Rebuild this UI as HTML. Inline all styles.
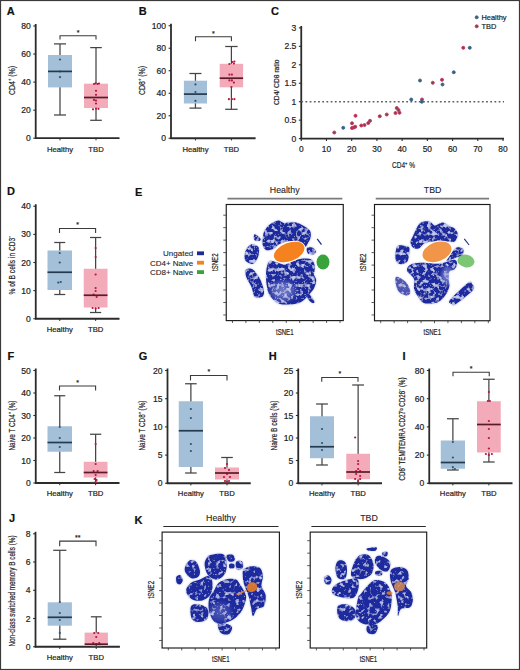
<!DOCTYPE html>
<html><head><meta charset="utf-8"><style>
html,body{margin:0;padding:0;background:#fff;}
body{width:520px;height:670px;overflow:hidden;}
svg{display:block;font-family:"Liberation Sans", sans-serif;}
text{stroke:#1e1e1e;stroke-width:0.2px;}
text.lt{stroke-width:0.1px;}
</style></head><body>
<svg width="520" height="670" viewBox="0 0 520 670">
<rect x="0" y="0" width="520" height="670" fill="#fff"/>
<line x1="35.7" y1="24.0" x2="35.7" y2="138.79999999999998" stroke="#2b2b2b" stroke-width="1.8"/>
<line x1="35.0" y1="138.2" x2="119.5" y2="138.2" stroke="#2b2b2b" stroke-width="1.8"/>
<line x1="33.300000000000004" y1="26.0" x2="35.7" y2="26.0" stroke="#2b2b2b" stroke-width="1.1"/>
<text x="30.800000000000004" y="29.0" font-size="8.6" text-anchor="end" font-weight="normal" fill="#1e1e1e" >80</text>
<line x1="33.300000000000004" y1="54.05" x2="35.7" y2="54.05" stroke="#2b2b2b" stroke-width="1.1"/>
<text x="30.800000000000004" y="57.05" font-size="8.6" text-anchor="end" font-weight="normal" fill="#1e1e1e" >60</text>
<line x1="33.300000000000004" y1="82.1" x2="35.7" y2="82.1" stroke="#2b2b2b" stroke-width="1.1"/>
<text x="30.800000000000004" y="85.1" font-size="8.6" text-anchor="end" font-weight="normal" fill="#1e1e1e" >40</text>
<line x1="33.300000000000004" y1="110.15" x2="35.7" y2="110.15" stroke="#2b2b2b" stroke-width="1.1"/>
<text x="30.800000000000004" y="113.15" font-size="8.6" text-anchor="end" font-weight="normal" fill="#1e1e1e" >20</text>
<line x1="33.300000000000004" y1="138.2" x2="35.7" y2="138.2" stroke="#2b2b2b" stroke-width="1.1"/>
<text x="30.800000000000004" y="141.2" font-size="8.6" text-anchor="end" font-weight="normal" fill="#1e1e1e" >0</text>
<line x1="60.0" y1="138.2" x2="60.0" y2="140.39999999999998" stroke="#2b2b2b" stroke-width="1"/>
<line x1="60.0" y1="43.9" x2="60.0" y2="115.0" stroke="#444444" stroke-width="1.25"/>
<line x1="54.0" y1="43.9" x2="66.0" y2="43.9" stroke="#444444" stroke-width="1.25"/>
<line x1="54.0" y1="115.0" x2="66.0" y2="115.0" stroke="#444444" stroke-width="1.25"/>
<rect x="48" y="55.0" width="24" height="32.400000000000006" fill="#a4c0d8"/>
<circle cx="60.0" cy="59.5" r="1.1" fill="#2a5478"/>
<circle cx="60.0" cy="71.5" r="1.1" fill="#2a5478"/>
<circle cx="60.0" cy="77.1" r="1.1" fill="#2a5478"/>
<line x1="48" y1="71.4" x2="72" y2="71.4" stroke="#243a4e" stroke-width="1.7"/>
<text x="60.0" y="151.9" font-size="7.7" text-anchor="middle" font-weight="normal" fill="#1e1e1e" >Healthy</text>
<line x1="96.0" y1="138.2" x2="96.0" y2="140.39999999999998" stroke="#2b2b2b" stroke-width="1"/>
<line x1="96.0" y1="47.6" x2="96.0" y2="120.3" stroke="#444444" stroke-width="1.25"/>
<line x1="90.2" y1="47.6" x2="101.8" y2="47.6" stroke="#444444" stroke-width="1.25"/>
<line x1="90.2" y1="120.3" x2="101.8" y2="120.3" stroke="#444444" stroke-width="1.25"/>
<rect x="84" y="83.7" width="24" height="24.299999999999997" fill="#f3aab9"/>
<circle cx="95.5" cy="83.3" r="1.1" fill="#b8163e"/>
<circle cx="94.0" cy="84" r="1.1" fill="#b8163e"/>
<circle cx="97.5" cy="84" r="1.1" fill="#b8163e"/>
<circle cx="99.0" cy="83.5" r="1.1" fill="#b8163e"/>
<circle cx="96.0" cy="90.8" r="1.1" fill="#b8163e"/>
<circle cx="96.0" cy="94.8" r="1.1" fill="#b8163e"/>
<circle cx="94.0" cy="99.9" r="1.1" fill="#b8163e"/>
<circle cx="96.0" cy="100.6" r="1.1" fill="#b8163e"/>
<circle cx="96.0" cy="103.5" r="1.1" fill="#b8163e"/>
<circle cx="93.0" cy="109.3" r="1.1" fill="#b8163e"/>
<circle cx="96.0" cy="108.6" r="1.1" fill="#b8163e"/>
<circle cx="98.5" cy="108.8" r="1.1" fill="#b8163e"/>
<line x1="84" y1="97.5" x2="108" y2="97.5" stroke="#5a1a2a" stroke-width="1.7"/>
<text x="96.0" y="151.9" font-size="7.7" text-anchor="middle" font-weight="normal" fill="#1e1e1e" >TBD</text>
<polyline points="60,39.6 60,35.800000000000004 96,35.800000000000004 96,39.6" fill="none" stroke="#3a3a3a" stroke-width="1.1"/>
<text x="78.0" y="34.6" font-size="7" text-anchor="middle" fill="#1e1e1e">*</text>
<text x="6.8" y="14.6" font-size="11" text-anchor="start" font-weight="bold" fill="#111" >A</text>
<text x="0" y="0" font-size="8.8" text-anchor="middle" fill="#1e1e1e" textLength="29" lengthAdjust="spacingAndGlyphs" transform="translate(15.168,80.5) rotate(-90)">CD4⁺ (%)</text>
<line x1="171.0" y1="23.75" x2="171.0" y2="138.85" stroke="#2b2b2b" stroke-width="1.8"/>
<line x1="170.3" y1="138.25" x2="255.6" y2="138.25" stroke="#2b2b2b" stroke-width="1.8"/>
<line x1="168.6" y1="25.75" x2="171.0" y2="25.75" stroke="#2b2b2b" stroke-width="1.1"/>
<text x="166.1" y="28.75" font-size="8.6" text-anchor="end" font-weight="normal" fill="#1e1e1e" >100</text>
<line x1="168.6" y1="48.25" x2="171.0" y2="48.25" stroke="#2b2b2b" stroke-width="1.1"/>
<text x="166.1" y="51.25" font-size="8.6" text-anchor="end" font-weight="normal" fill="#1e1e1e" >80</text>
<line x1="168.6" y1="70.75" x2="171.0" y2="70.75" stroke="#2b2b2b" stroke-width="1.1"/>
<text x="166.1" y="73.75" font-size="8.6" text-anchor="end" font-weight="normal" fill="#1e1e1e" >60</text>
<line x1="168.6" y1="93.25" x2="171.0" y2="93.25" stroke="#2b2b2b" stroke-width="1.1"/>
<text x="166.1" y="96.25" font-size="8.6" text-anchor="end" font-weight="normal" fill="#1e1e1e" >40</text>
<line x1="168.6" y1="115.75" x2="171.0" y2="115.75" stroke="#2b2b2b" stroke-width="1.1"/>
<text x="166.1" y="118.75" font-size="8.6" text-anchor="end" font-weight="normal" fill="#1e1e1e" >20</text>
<line x1="168.6" y1="138.25" x2="171.0" y2="138.25" stroke="#2b2b2b" stroke-width="1.1"/>
<text x="166.1" y="141.25" font-size="8.6" text-anchor="end" font-weight="normal" fill="#1e1e1e" >0</text>
<line x1="195.45" y1="138.25" x2="195.45" y2="140.45" stroke="#2b2b2b" stroke-width="1"/>
<line x1="195.45" y1="73.5" x2="195.45" y2="108.1" stroke="#444444" stroke-width="1.25"/>
<line x1="189.45" y1="73.5" x2="201.45" y2="73.5" stroke="#444444" stroke-width="1.25"/>
<line x1="189.45" y1="108.1" x2="201.45" y2="108.1" stroke="#444444" stroke-width="1.25"/>
<rect x="183.9" y="80.7" width="23.099999999999994" height="22.799999999999997" fill="#a4c0d8"/>
<circle cx="195.45" cy="84.4" r="1.1" fill="#2a5478"/>
<circle cx="195.45" cy="92" r="1.1" fill="#2a5478"/>
<circle cx="195.45" cy="100.9" r="1.1" fill="#2a5478"/>
<line x1="183.9" y1="94.1" x2="207.0" y2="94.1" stroke="#243a4e" stroke-width="1.7"/>
<text x="195.45" y="151.9" font-size="7.7" text-anchor="middle" font-weight="normal" fill="#1e1e1e" >Healthy</text>
<line x1="231.39999999999998" y1="138.25" x2="231.39999999999998" y2="140.45" stroke="#2b2b2b" stroke-width="1"/>
<line x1="231.39999999999998" y1="46.5" x2="231.39999999999998" y2="109.3" stroke="#444444" stroke-width="1.25"/>
<line x1="225.2" y1="46.5" x2="237.59999999999997" y2="46.5" stroke="#444444" stroke-width="1.25"/>
<line x1="225.2" y1="109.3" x2="237.59999999999997" y2="109.3" stroke="#444444" stroke-width="1.25"/>
<rect x="219.7" y="63.8" width="23.400000000000006" height="23.5" fill="#f3aab9"/>
<circle cx="229.39999999999998" cy="64" r="1.1" fill="#b8163e"/>
<circle cx="232.39999999999998" cy="62" r="1.1" fill="#b8163e"/>
<circle cx="234.39999999999998" cy="61.5" r="1.1" fill="#b8163e"/>
<circle cx="233.89999999999998" cy="63.5" r="1.1" fill="#b8163e"/>
<circle cx="229.39999999999998" cy="74.6" r="1.1" fill="#b8163e"/>
<circle cx="231.89999999999998" cy="74.6" r="1.1" fill="#b8163e"/>
<circle cx="229.39999999999998" cy="80.4" r="1.1" fill="#b8163e"/>
<circle cx="231.89999999999998" cy="80.4" r="1.1" fill="#b8163e"/>
<circle cx="233.89999999999998" cy="82.6" r="1.1" fill="#b8163e"/>
<circle cx="231.39999999999998" cy="87" r="1.1" fill="#b8163e"/>
<circle cx="228.89999999999998" cy="99.2" r="1.1" fill="#b8163e"/>
<circle cx="231.89999999999998" cy="99.2" r="1.1" fill="#b8163e"/>
<circle cx="234.39999999999998" cy="99.2" r="1.1" fill="#b8163e"/>
<line x1="219.7" y1="78.2" x2="243.1" y2="78.2" stroke="#5a1a2a" stroke-width="1.7"/>
<text x="231.39999999999998" y="151.9" font-size="7.7" text-anchor="middle" font-weight="normal" fill="#1e1e1e" >TBD</text>
<polyline points="195.5,41.3 195.5,36.7 231.4,36.7 231.4,41.3" fill="none" stroke="#3a3a3a" stroke-width="1.1"/>
<text x="213.45" y="35.5" font-size="7" text-anchor="middle" fill="#1e1e1e">*</text>
<text x="138.7" y="14.5" font-size="11" text-anchor="start" font-weight="bold" fill="#111" >B</text>
<text x="0" y="0" font-size="8.8" text-anchor="middle" fill="#1e1e1e" textLength="29" lengthAdjust="spacingAndGlyphs" transform="translate(145.168,80.5) rotate(-90)">CD8⁺ (%)</text>
<line x1="35.75" y1="204.25" x2="35.75" y2="319.35" stroke="#2b2b2b" stroke-width="1.8"/>
<line x1="35.05" y1="318.75" x2="119.5" y2="318.75" stroke="#2b2b2b" stroke-width="1.8"/>
<line x1="33.35" y1="206.25" x2="35.75" y2="206.25" stroke="#2b2b2b" stroke-width="1.1"/>
<text x="30.85" y="209.25" font-size="8.6" text-anchor="end" font-weight="normal" fill="#1e1e1e" >40</text>
<line x1="33.35" y1="234.4" x2="35.75" y2="234.4" stroke="#2b2b2b" stroke-width="1.1"/>
<text x="30.85" y="237.4" font-size="8.6" text-anchor="end" font-weight="normal" fill="#1e1e1e" >30</text>
<line x1="33.35" y1="262.5" x2="35.75" y2="262.5" stroke="#2b2b2b" stroke-width="1.1"/>
<text x="30.85" y="265.5" font-size="8.6" text-anchor="end" font-weight="normal" fill="#1e1e1e" >20</text>
<line x1="33.35" y1="290.6" x2="35.75" y2="290.6" stroke="#2b2b2b" stroke-width="1.1"/>
<text x="30.85" y="293.6" font-size="8.6" text-anchor="end" font-weight="normal" fill="#1e1e1e" >10</text>
<line x1="33.35" y1="318.75" x2="35.75" y2="318.75" stroke="#2b2b2b" stroke-width="1.1"/>
<text x="30.85" y="321.75" font-size="8.6" text-anchor="end" font-weight="normal" fill="#1e1e1e" >0</text>
<line x1="59.75" y1="318.75" x2="59.75" y2="320.95" stroke="#2b2b2b" stroke-width="1"/>
<line x1="59.75" y1="242.5" x2="59.75" y2="294.5" stroke="#444444" stroke-width="1.25"/>
<line x1="54.25" y1="242.5" x2="65.25" y2="242.5" stroke="#444444" stroke-width="1.25"/>
<line x1="54.25" y1="294.5" x2="65.25" y2="294.5" stroke="#444444" stroke-width="1.25"/>
<rect x="47.5" y="250.5" width="24.5" height="39.5" fill="#a4c0d8"/>
<circle cx="59.75" cy="253" r="1.1" fill="#2a5478"/>
<circle cx="59.75" cy="262.5" r="1.1" fill="#2a5478"/>
<circle cx="58.25" cy="282.6" r="1.1" fill="#2a5478"/>
<circle cx="60.75" cy="282" r="1.1" fill="#2a5478"/>
<line x1="47.5" y1="272.25" x2="72" y2="272.25" stroke="#243a4e" stroke-width="1.7"/>
<text x="59.75" y="332.4" font-size="7.7" text-anchor="middle" font-weight="normal" fill="#1e1e1e" >Healthy</text>
<line x1="95.625" y1="318.75" x2="95.625" y2="320.95" stroke="#2b2b2b" stroke-width="1"/>
<line x1="95.625" y1="237.5" x2="95.625" y2="312.5" stroke="#444444" stroke-width="1.25"/>
<line x1="90.025" y1="237.5" x2="101.225" y2="237.5" stroke="#444444" stroke-width="1.25"/>
<line x1="90.025" y1="312.5" x2="101.225" y2="312.5" stroke="#444444" stroke-width="1.25"/>
<rect x="83.75" y="268.75" width="23.75" height="38.75" fill="#f3aab9"/>
<circle cx="95.625" cy="248" r="1.1" fill="#b8163e"/>
<circle cx="95.625" cy="257" r="1.1" fill="#b8163e"/>
<circle cx="95.625" cy="274.5" r="1.1" fill="#b8163e"/>
<circle cx="95.625" cy="288" r="1.1" fill="#b8163e"/>
<circle cx="95.625" cy="291" r="1.1" fill="#b8163e"/>
<circle cx="93.625" cy="294.5" r="1.1" fill="#b8163e"/>
<circle cx="96.625" cy="297" r="1.1" fill="#b8163e"/>
<circle cx="92.625" cy="308" r="1.1" fill="#b8163e"/>
<circle cx="95.625" cy="308.5" r="1.1" fill="#b8163e"/>
<circle cx="98.625" cy="308" r="1.1" fill="#b8163e"/>
<line x1="83.75" y1="295.25" x2="107.5" y2="295.25" stroke="#5a1a2a" stroke-width="1.7"/>
<text x="95.625" y="332.4" font-size="7.7" text-anchor="middle" font-weight="normal" fill="#1e1e1e" >TBD</text>
<polyline points="59.5,233.0 59.5,228.45 95.6,228.45 95.6,233.0" fill="none" stroke="#3a3a3a" stroke-width="1.1"/>
<text x="77.55" y="227.25" font-size="7" text-anchor="middle" fill="#1e1e1e">*</text>
<text x="7" y="195" font-size="11" text-anchor="start" font-weight="bold" fill="#111" >D</text>
<text x="0" y="0" font-size="8.8" text-anchor="middle" fill="#1e1e1e" textLength="59" lengthAdjust="spacingAndGlyphs" transform="translate(15.168,265) rotate(-90)">% of B cells in CD3⁻</text>
<line x1="35.75" y1="368.5" x2="35.75" y2="483.6" stroke="#2b2b2b" stroke-width="1.8"/>
<line x1="35.05" y1="483.0" x2="119.5" y2="483.0" stroke="#2b2b2b" stroke-width="1.8"/>
<line x1="33.35" y1="370.5" x2="35.75" y2="370.5" stroke="#2b2b2b" stroke-width="1.1"/>
<text x="30.85" y="373.5" font-size="8.6" text-anchor="end" font-weight="normal" fill="#1e1e1e" >50</text>
<line x1="33.35" y1="393.0" x2="35.75" y2="393.0" stroke="#2b2b2b" stroke-width="1.1"/>
<text x="30.85" y="396.0" font-size="8.6" text-anchor="end" font-weight="normal" fill="#1e1e1e" >40</text>
<line x1="33.35" y1="415.5" x2="35.75" y2="415.5" stroke="#2b2b2b" stroke-width="1.1"/>
<text x="30.85" y="418.5" font-size="8.6" text-anchor="end" font-weight="normal" fill="#1e1e1e" >30</text>
<line x1="33.35" y1="438.0" x2="35.75" y2="438.0" stroke="#2b2b2b" stroke-width="1.1"/>
<text x="30.85" y="441.0" font-size="8.6" text-anchor="end" font-weight="normal" fill="#1e1e1e" >20</text>
<line x1="33.35" y1="460.5" x2="35.75" y2="460.5" stroke="#2b2b2b" stroke-width="1.1"/>
<text x="30.85" y="463.5" font-size="8.6" text-anchor="end" font-weight="normal" fill="#1e1e1e" >10</text>
<line x1="33.35" y1="483.0" x2="35.75" y2="483.0" stroke="#2b2b2b" stroke-width="1.1"/>
<text x="30.85" y="486.0" font-size="8.6" text-anchor="end" font-weight="normal" fill="#1e1e1e" >0</text>
<line x1="59.75" y1="483.0" x2="59.75" y2="485.2" stroke="#2b2b2b" stroke-width="1"/>
<line x1="59.75" y1="395.75" x2="59.75" y2="472.5" stroke="#444444" stroke-width="1.25"/>
<line x1="54.25" y1="395.75" x2="65.25" y2="395.75" stroke="#444444" stroke-width="1.25"/>
<line x1="54.25" y1="472.5" x2="65.25" y2="472.5" stroke="#444444" stroke-width="1.25"/>
<rect x="47.5" y="426.25" width="24.5" height="25.5" fill="#a4c0d8"/>
<circle cx="59.75" cy="427" r="1.1" fill="#2a5478"/>
<circle cx="59.75" cy="438" r="1.1" fill="#2a5478"/>
<circle cx="59.75" cy="447" r="1.1" fill="#2a5478"/>
<line x1="47.5" y1="442.5" x2="72" y2="442.5" stroke="#243a4e" stroke-width="1.7"/>
<text x="59.75" y="496.4" font-size="7.7" text-anchor="middle" font-weight="normal" fill="#1e1e1e" >Healthy</text>
<line x1="95.625" y1="483.0" x2="95.625" y2="485.2" stroke="#2b2b2b" stroke-width="1"/>
<line x1="95.625" y1="434.25" x2="95.625" y2="482.5" stroke="#444444" stroke-width="1.25"/>
<line x1="90.025" y1="434.25" x2="101.225" y2="434.25" stroke="#444444" stroke-width="1.25"/>
<line x1="90.025" y1="482.5" x2="101.225" y2="482.5" stroke="#444444" stroke-width="1.25"/>
<rect x="83.75" y="461.75" width="23.75" height="15.75" fill="#f3aab9"/>
<circle cx="95.625" cy="444" r="1.1" fill="#b8163e"/>
<circle cx="95.625" cy="464" r="1.1" fill="#b8163e"/>
<circle cx="93.625" cy="471" r="1.1" fill="#b8163e"/>
<circle cx="97.625" cy="471" r="1.1" fill="#b8163e"/>
<circle cx="95.625" cy="475" r="1.1" fill="#b8163e"/>
<circle cx="94.625" cy="479" r="1.1" fill="#b8163e"/>
<circle cx="96.625" cy="480" r="1.1" fill="#b8163e"/>
<circle cx="95.625" cy="482" r="1.1" fill="#b8163e"/>
<line x1="83.75" y1="472.5" x2="107.5" y2="472.5" stroke="#5a1a2a" stroke-width="1.7"/>
<text x="95.625" y="496.4" font-size="7.7" text-anchor="middle" font-weight="normal" fill="#1e1e1e" >TBD</text>
<polyline points="59.5,390.5 59.5,385.95 95.6,385.95 95.6,390.5" fill="none" stroke="#3a3a3a" stroke-width="1.1"/>
<text x="77.55" y="384.75" font-size="7" text-anchor="middle" fill="#1e1e1e">*</text>
<text x="7.5" y="359.5" font-size="11" text-anchor="start" font-weight="bold" fill="#111" >F</text>
<text x="0" y="0" font-size="8.8" text-anchor="middle" fill="#1e1e1e" textLength="50" lengthAdjust="spacingAndGlyphs" transform="translate(15.168,425.5) rotate(-90)">Naive T CD4⁺ (%)</text>
<line x1="167.5" y1="368.5" x2="167.5" y2="483.85" stroke="#2b2b2b" stroke-width="1.8"/>
<line x1="166.8" y1="483.25" x2="250.75" y2="483.25" stroke="#2b2b2b" stroke-width="1.8"/>
<line x1="165.1" y1="370.5" x2="167.5" y2="370.5" stroke="#2b2b2b" stroke-width="1.1"/>
<text x="162.6" y="373.5" font-size="8.6" text-anchor="end" font-weight="normal" fill="#1e1e1e" >20</text>
<line x1="165.1" y1="398.7" x2="167.5" y2="398.7" stroke="#2b2b2b" stroke-width="1.1"/>
<text x="162.6" y="401.7" font-size="8.6" text-anchor="end" font-weight="normal" fill="#1e1e1e" >15</text>
<line x1="165.1" y1="426.9" x2="167.5" y2="426.9" stroke="#2b2b2b" stroke-width="1.1"/>
<text x="162.6" y="429.9" font-size="8.6" text-anchor="end" font-weight="normal" fill="#1e1e1e" >10</text>
<line x1="165.1" y1="455.1" x2="167.5" y2="455.1" stroke="#2b2b2b" stroke-width="1.1"/>
<text x="162.6" y="458.1" font-size="8.6" text-anchor="end" font-weight="normal" fill="#1e1e1e" >5</text>
<line x1="165.1" y1="483.25" x2="167.5" y2="483.25" stroke="#2b2b2b" stroke-width="1.1"/>
<text x="162.6" y="486.25" font-size="8.6" text-anchor="end" font-weight="normal" fill="#1e1e1e" >0</text>
<line x1="190.875" y1="483.25" x2="190.875" y2="485.45" stroke="#2b2b2b" stroke-width="1"/>
<line x1="190.875" y1="383.75" x2="190.875" y2="473" stroke="#444444" stroke-width="1.25"/>
<line x1="185.075" y1="383.75" x2="196.675" y2="383.75" stroke="#444444" stroke-width="1.25"/>
<line x1="185.075" y1="473" x2="196.675" y2="473" stroke="#444444" stroke-width="1.25"/>
<rect x="178.75" y="401.25" width="24.25" height="65.75" fill="#a4c0d8"/>
<circle cx="190.875" cy="409" r="1.1" fill="#2a5478"/>
<circle cx="190.875" cy="418" r="1.1" fill="#2a5478"/>
<circle cx="190.875" cy="444" r="1.1" fill="#2a5478"/>
<circle cx="190.875" cy="451" r="1.1" fill="#2a5478"/>
<line x1="178.75" y1="430.75" x2="203" y2="430.75" stroke="#243a4e" stroke-width="1.7"/>
<text x="190.875" y="496.4" font-size="7.7" text-anchor="middle" font-weight="normal" fill="#1e1e1e" >Healthy</text>
<line x1="227.0" y1="483.25" x2="227.0" y2="485.45" stroke="#2b2b2b" stroke-width="1"/>
<line x1="227.0" y1="457.5" x2="227.0" y2="483" stroke="#444444" stroke-width="1.25"/>
<line x1="221.2" y1="457.5" x2="232.8" y2="457.5" stroke="#444444" stroke-width="1.25"/>
<line x1="221.2" y1="483" x2="232.8" y2="483" stroke="#444444" stroke-width="1.25"/>
<rect x="215" y="467.5" width="24" height="12.0" fill="#f3aab9"/>
<circle cx="227.0" cy="464" r="1.1" fill="#b8163e"/>
<circle cx="225.0" cy="468" r="1.1" fill="#b8163e"/>
<circle cx="229.0" cy="470" r="1.1" fill="#b8163e"/>
<circle cx="227.0" cy="474" r="1.1" fill="#b8163e"/>
<circle cx="224.0" cy="477" r="1.1" fill="#b8163e"/>
<circle cx="230.0" cy="477" r="1.1" fill="#b8163e"/>
<circle cx="225.0" cy="481" r="1.1" fill="#b8163e"/>
<circle cx="229.0" cy="481" r="1.1" fill="#b8163e"/>
<circle cx="227.0" cy="482" r="1.1" fill="#b8163e"/>
<line x1="215" y1="473" x2="239" y2="473" stroke="#5a1a2a" stroke-width="1.7"/>
<text x="227.0" y="496.4" font-size="7.7" text-anchor="middle" font-weight="normal" fill="#1e1e1e" >TBD</text>
<polyline points="190.5,380.5 190.5,375.45 227,375.45 227,380.5" fill="none" stroke="#3a3a3a" stroke-width="1.1"/>
<text x="208.75" y="374.25" font-size="7" text-anchor="middle" fill="#1e1e1e">*</text>
<text x="138.75" y="359.5" font-size="11" text-anchor="start" font-weight="bold" fill="#111" >G</text>
<text x="0" y="0" font-size="8.8" text-anchor="middle" fill="#1e1e1e" textLength="50" lengthAdjust="spacingAndGlyphs" transform="translate(145.168,425.5) rotate(-90)">Naive T CD8⁺ (%)</text>
<line x1="298.25" y1="368.5" x2="298.25" y2="483.85" stroke="#2b2b2b" stroke-width="1.8"/>
<line x1="297.55" y1="483.25" x2="382" y2="483.25" stroke="#2b2b2b" stroke-width="1.8"/>
<line x1="295.85" y1="370.5" x2="298.25" y2="370.5" stroke="#2b2b2b" stroke-width="1.1"/>
<text x="293.35" y="373.5" font-size="8.6" text-anchor="end" font-weight="normal" fill="#1e1e1e" >25</text>
<line x1="295.85" y1="393.0" x2="298.25" y2="393.0" stroke="#2b2b2b" stroke-width="1.1"/>
<text x="293.35" y="396.0" font-size="8.6" text-anchor="end" font-weight="normal" fill="#1e1e1e" >20</text>
<line x1="295.85" y1="415.5" x2="298.25" y2="415.5" stroke="#2b2b2b" stroke-width="1.1"/>
<text x="293.35" y="418.5" font-size="8.6" text-anchor="end" font-weight="normal" fill="#1e1e1e" >15</text>
<line x1="295.85" y1="438.0" x2="298.25" y2="438.0" stroke="#2b2b2b" stroke-width="1.1"/>
<text x="293.35" y="441.0" font-size="8.6" text-anchor="end" font-weight="normal" fill="#1e1e1e" >10</text>
<line x1="295.85" y1="460.5" x2="298.25" y2="460.5" stroke="#2b2b2b" stroke-width="1.1"/>
<text x="293.35" y="463.5" font-size="8.6" text-anchor="end" font-weight="normal" fill="#1e1e1e" >5</text>
<line x1="295.85" y1="483.25" x2="298.25" y2="483.25" stroke="#2b2b2b" stroke-width="1.1"/>
<text x="293.35" y="486.25" font-size="8.6" text-anchor="end" font-weight="normal" fill="#1e1e1e" >0</text>
<line x1="322.0" y1="483.25" x2="322.0" y2="485.45" stroke="#2b2b2b" stroke-width="1"/>
<line x1="322.0" y1="404" x2="322.0" y2="465" stroke="#444444" stroke-width="1.25"/>
<line x1="316.1" y1="404" x2="327.9" y2="404" stroke="#444444" stroke-width="1.25"/>
<line x1="316.1" y1="465" x2="327.9" y2="465" stroke="#444444" stroke-width="1.25"/>
<rect x="310" y="416.25" width="24" height="42.0" fill="#a4c0d8"/>
<circle cx="322.0" cy="429" r="1.1" fill="#2a5478"/>
<circle cx="322.0" cy="443" r="1.1" fill="#2a5478"/>
<circle cx="322.0" cy="450" r="1.1" fill="#2a5478"/>
<line x1="310" y1="446.75" x2="334" y2="446.75" stroke="#243a4e" stroke-width="1.7"/>
<text x="322.0" y="496.4" font-size="7.7" text-anchor="middle" font-weight="normal" fill="#1e1e1e" >Healthy</text>
<line x1="358.125" y1="483.25" x2="358.125" y2="485.45" stroke="#2b2b2b" stroke-width="1"/>
<line x1="358.125" y1="385" x2="358.125" y2="483" stroke="#444444" stroke-width="1.25"/>
<line x1="352.225" y1="385" x2="364.025" y2="385" stroke="#444444" stroke-width="1.25"/>
<line x1="352.225" y1="483" x2="364.025" y2="483" stroke="#444444" stroke-width="1.25"/>
<rect x="346.25" y="453.75" width="23.75" height="25.5" fill="#f3aab9"/>
<circle cx="355.125" cy="437.5" r="1.1" fill="#b8163e"/>
<circle cx="358.125" cy="461" r="1.1" fill="#b8163e"/>
<circle cx="358.125" cy="464" r="1.1" fill="#b8163e"/>
<circle cx="358.125" cy="469" r="1.1" fill="#b8163e"/>
<circle cx="356.125" cy="471" r="1.1" fill="#b8163e"/>
<circle cx="360.125" cy="471" r="1.1" fill="#b8163e"/>
<circle cx="356.125" cy="474" r="1.1" fill="#b8163e"/>
<circle cx="360.125" cy="476" r="1.1" fill="#b8163e"/>
<circle cx="355.125" cy="479" r="1.1" fill="#b8163e"/>
<circle cx="360.125" cy="479" r="1.1" fill="#b8163e"/>
<circle cx="358.125" cy="481" r="1.1" fill="#b8163e"/>
<line x1="346.25" y1="472" x2="370" y2="472" stroke="#5a1a2a" stroke-width="1.7"/>
<text x="358.125" y="496.4" font-size="7.7" text-anchor="middle" font-weight="normal" fill="#1e1e1e" >TBD</text>
<polyline points="321.75,381.75 321.75,377.45 358,377.45 358,381.75" fill="none" stroke="#3a3a3a" stroke-width="1.1"/>
<text x="339.875" y="376.25" font-size="7" text-anchor="middle" fill="#1e1e1e">*</text>
<text x="268.75" y="359.5" font-size="11" text-anchor="start" font-weight="bold" fill="#111" >H</text>
<text x="0" y="0" font-size="8.8" text-anchor="middle" fill="#1e1e1e" textLength="50" lengthAdjust="spacingAndGlyphs" transform="translate(276.918,425.5) rotate(-90)">Naive B cells (%)</text>
<line x1="429.25" y1="368.5" x2="429.25" y2="483.85" stroke="#2b2b2b" stroke-width="1.8"/>
<line x1="428.55" y1="483.25" x2="512.5" y2="483.25" stroke="#2b2b2b" stroke-width="1.8"/>
<line x1="426.85" y1="370.5" x2="429.25" y2="370.5" stroke="#2b2b2b" stroke-width="1.1"/>
<text x="424.35" y="373.5" font-size="8.6" text-anchor="end" font-weight="normal" fill="#1e1e1e" >80</text>
<line x1="426.85" y1="398.7" x2="429.25" y2="398.7" stroke="#2b2b2b" stroke-width="1.1"/>
<text x="424.35" y="401.7" font-size="8.6" text-anchor="end" font-weight="normal" fill="#1e1e1e" >60</text>
<line x1="426.85" y1="426.9" x2="429.25" y2="426.9" stroke="#2b2b2b" stroke-width="1.1"/>
<text x="424.35" y="429.9" font-size="8.6" text-anchor="end" font-weight="normal" fill="#1e1e1e" >40</text>
<line x1="426.85" y1="455.1" x2="429.25" y2="455.1" stroke="#2b2b2b" stroke-width="1.1"/>
<text x="424.35" y="458.1" font-size="8.6" text-anchor="end" font-weight="normal" fill="#1e1e1e" >20</text>
<line x1="426.85" y1="483.25" x2="429.25" y2="483.25" stroke="#2b2b2b" stroke-width="1.1"/>
<text x="424.35" y="486.25" font-size="8.6" text-anchor="end" font-weight="normal" fill="#1e1e1e" >0</text>
<line x1="452.875" y1="483.25" x2="452.875" y2="485.45" stroke="#2b2b2b" stroke-width="1"/>
<line x1="452.875" y1="418.75" x2="452.875" y2="470" stroke="#444444" stroke-width="1.25"/>
<line x1="446.975" y1="418.75" x2="458.775" y2="418.75" stroke="#444444" stroke-width="1.25"/>
<line x1="446.975" y1="470" x2="458.775" y2="470" stroke="#444444" stroke-width="1.25"/>
<rect x="440.75" y="440.5" width="24.25" height="28.25" fill="#a4c0d8"/>
<circle cx="452.875" cy="442" r="1.1" fill="#2a5478"/>
<circle cx="452.875" cy="457.5" r="1.1" fill="#2a5478"/>
<circle cx="452.875" cy="467" r="1.1" fill="#2a5478"/>
<circle cx="454.875" cy="469" r="1.1" fill="#2a5478"/>
<line x1="440.75" y1="462.5" x2="465" y2="462.5" stroke="#243a4e" stroke-width="1.7"/>
<text x="452.875" y="496.4" font-size="7.7" text-anchor="middle" font-weight="normal" fill="#1e1e1e" >Healthy</text>
<line x1="488.875" y1="483.25" x2="488.875" y2="485.45" stroke="#2b2b2b" stroke-width="1"/>
<line x1="488.875" y1="379.25" x2="488.875" y2="462" stroke="#444444" stroke-width="1.25"/>
<line x1="483.075" y1="379.25" x2="494.675" y2="379.25" stroke="#444444" stroke-width="1.25"/>
<line x1="483.075" y1="462" x2="494.675" y2="462" stroke="#444444" stroke-width="1.25"/>
<rect x="477" y="401.25" width="23.75" height="51.25" fill="#f3aab9"/>
<circle cx="488.875" cy="392" r="1.1" fill="#b8163e"/>
<circle cx="487.875" cy="401" r="1.1" fill="#b8163e"/>
<circle cx="489.875" cy="401" r="1.1" fill="#b8163e"/>
<circle cx="488.875" cy="421" r="1.1" fill="#b8163e"/>
<circle cx="488.875" cy="429" r="1.1" fill="#b8163e"/>
<circle cx="488.875" cy="438" r="1.1" fill="#b8163e"/>
<circle cx="488.875" cy="448.5" r="1.1" fill="#b8163e"/>
<circle cx="485.875" cy="454" r="1.1" fill="#b8163e"/>
<circle cx="488.875" cy="455" r="1.1" fill="#b8163e"/>
<circle cx="491.875" cy="454" r="1.1" fill="#b8163e"/>
<line x1="477" y1="424.5" x2="500.75" y2="424.5" stroke="#5a1a2a" stroke-width="1.7"/>
<text x="488.875" y="496.4" font-size="7.7" text-anchor="middle" font-weight="normal" fill="#1e1e1e" >TBD</text>
<polyline points="453,376.25 453,372.2 489.25,372.2 489.25,376.25" fill="none" stroke="#3a3a3a" stroke-width="1.1"/>
<text x="471.125" y="371.0" font-size="7" text-anchor="middle" fill="#1e1e1e">*</text>
<text x="402.5" y="359.5" font-size="11" text-anchor="start" font-weight="bold" fill="#111" >I</text>
<text x="0" y="0" font-size="8.8" text-anchor="middle" fill="#1e1e1e" textLength="103" lengthAdjust="spacingAndGlyphs" transform="translate(405.168,429) rotate(-90)">CD8⁺ TEM/TEMRA CD27<tspan font-size="5" dy="-2">lo</tspan><tspan dy="2"> CD28⁻ (%)</tspan></text>
<line x1="35.5" y1="531.8" x2="35.5" y2="647.35" stroke="#2b2b2b" stroke-width="1.8"/>
<line x1="34.8" y1="646.75" x2="119.9" y2="646.75" stroke="#2b2b2b" stroke-width="1.8"/>
<line x1="33.1" y1="533.8" x2="35.5" y2="533.8" stroke="#2b2b2b" stroke-width="1.1"/>
<text x="30.6" y="536.8" font-size="8.6" text-anchor="end" font-weight="normal" fill="#1e1e1e" >8</text>
<line x1="33.1" y1="562.0" x2="35.5" y2="562.0" stroke="#2b2b2b" stroke-width="1.1"/>
<text x="30.6" y="565.0" font-size="8.6" text-anchor="end" font-weight="normal" fill="#1e1e1e" >6</text>
<line x1="33.1" y1="590.3" x2="35.5" y2="590.3" stroke="#2b2b2b" stroke-width="1.1"/>
<text x="30.6" y="593.3" font-size="8.6" text-anchor="end" font-weight="normal" fill="#1e1e1e" >4</text>
<line x1="33.1" y1="618.5" x2="35.5" y2="618.5" stroke="#2b2b2b" stroke-width="1.1"/>
<text x="30.6" y="621.5" font-size="8.6" text-anchor="end" font-weight="normal" fill="#1e1e1e" >2</text>
<line x1="33.1" y1="646.75" x2="35.5" y2="646.75" stroke="#2b2b2b" stroke-width="1.1"/>
<text x="30.6" y="649.75" font-size="8.6" text-anchor="end" font-weight="normal" fill="#1e1e1e" >0</text>
<line x1="59.800000000000004" y1="646.75" x2="59.800000000000004" y2="648.95" stroke="#2b2b2b" stroke-width="1"/>
<line x1="59.800000000000004" y1="550.3" x2="59.800000000000004" y2="639.2" stroke="#444444" stroke-width="1.25"/>
<line x1="53.2" y1="550.3" x2="66.4" y2="550.3" stroke="#444444" stroke-width="1.25"/>
<line x1="53.2" y1="639.2" x2="66.4" y2="639.2" stroke="#444444" stroke-width="1.25"/>
<rect x="47.7" y="602.3" width="24.200000000000003" height="23.40000000000009" fill="#a4c0d8"/>
<circle cx="59.800000000000004" cy="602" r="1.1" fill="#2a5478"/>
<circle cx="59.800000000000004" cy="613" r="1.1" fill="#2a5478"/>
<circle cx="59.800000000000004" cy="620" r="1.1" fill="#2a5478"/>
<circle cx="59.800000000000004" cy="633" r="1.1" fill="#2a5478"/>
<line x1="47.7" y1="617.3" x2="71.9" y2="617.3" stroke="#243a4e" stroke-width="1.7"/>
<text x="59.800000000000004" y="659.6" font-size="7.7" text-anchor="middle" font-weight="normal" fill="#1e1e1e" >Healthy</text>
<line x1="96.25" y1="646.75" x2="96.25" y2="648.95" stroke="#2b2b2b" stroke-width="1"/>
<line x1="96.25" y1="616.8" x2="96.25" y2="646.5" stroke="#444444" stroke-width="1.25"/>
<line x1="90.85" y1="616.8" x2="101.65" y2="616.8" stroke="#444444" stroke-width="1.25"/>
<line x1="90.85" y1="646.5" x2="101.65" y2="646.5" stroke="#444444" stroke-width="1.25"/>
<rect x="84.6" y="632.6" width="23.30000000000001" height="12.100000000000023" fill="#f3aab9"/>
<circle cx="94.25" cy="633" r="1.1" fill="#b8163e"/>
<circle cx="98.25" cy="633" r="1.1" fill="#b8163e"/>
<circle cx="96.25" cy="637" r="1.1" fill="#b8163e"/>
<circle cx="93.25" cy="643" r="1.1" fill="#b8163e"/>
<circle cx="96.25" cy="644" r="1.1" fill="#b8163e"/>
<circle cx="99.25" cy="643" r="1.1" fill="#b8163e"/>
<line x1="84.6" y1="644.2" x2="107.9" y2="644.2" stroke="#5a1a2a" stroke-width="1.7"/>
<text x="96.25" y="659.6" font-size="7.7" text-anchor="middle" font-weight="normal" fill="#1e1e1e" >TBD</text>
<polyline points="59.7,546.2 59.7,541.1 96,541.1 96,546.2" fill="none" stroke="#3a3a3a" stroke-width="1.1"/>
<text x="77.85" y="539.9" font-size="7" text-anchor="middle" fill="#1e1e1e">**</text>
<text x="8.9" y="522.3" font-size="11" text-anchor="start" font-weight="bold" fill="#111" >J</text>
<text x="0" y="0" font-size="8.8" text-anchor="middle" fill="#1e1e1e" textLength="111" lengthAdjust="spacingAndGlyphs" transform="translate(15.367999999999999,591) rotate(-90)">Non-class switched memory B cells (%)</text>
<line x1="301.25" y1="26" x2="301.25" y2="139.2" stroke="#2b2b2b" stroke-width="1.8"/>
<line x1="300.55" y1="138.6" x2="504" y2="138.6" stroke="#2b2b2b" stroke-width="1.8"/>
<line x1="298.85" y1="138.6" x2="301.25" y2="138.6" stroke="#2b2b2b" stroke-width="1.1"/>
<text x="296.35" y="141.6" font-size="8.6" text-anchor="end" font-weight="normal" fill="#1e1e1e" >0</text>
<line x1="298.85" y1="120.14999999999999" x2="301.25" y2="120.14999999999999" stroke="#2b2b2b" stroke-width="1.1"/>
<text x="296.35" y="123.14999999999999" font-size="8.6" text-anchor="end" font-weight="normal" fill="#1e1e1e" >0.5</text>
<line x1="298.85" y1="101.69999999999999" x2="301.25" y2="101.69999999999999" stroke="#2b2b2b" stroke-width="1.1"/>
<text x="296.35" y="104.69999999999999" font-size="8.6" text-anchor="end" font-weight="normal" fill="#1e1e1e" >1</text>
<line x1="298.85" y1="83.25" x2="301.25" y2="83.25" stroke="#2b2b2b" stroke-width="1.1"/>
<text x="296.35" y="86.25" font-size="8.6" text-anchor="end" font-weight="normal" fill="#1e1e1e" >1.5</text>
<line x1="298.85" y1="64.8" x2="301.25" y2="64.8" stroke="#2b2b2b" stroke-width="1.1"/>
<text x="296.35" y="67.8" font-size="8.6" text-anchor="end" font-weight="normal" fill="#1e1e1e" >2</text>
<line x1="298.85" y1="46.349999999999994" x2="301.25" y2="46.349999999999994" stroke="#2b2b2b" stroke-width="1.1"/>
<text x="296.35" y="49.349999999999994" font-size="8.6" text-anchor="end" font-weight="normal" fill="#1e1e1e" >2.5</text>
<line x1="298.85" y1="27.900000000000006" x2="301.25" y2="27.900000000000006" stroke="#2b2b2b" stroke-width="1.1"/>
<text x="296.35" y="30.900000000000006" font-size="8.6" text-anchor="end" font-weight="normal" fill="#1e1e1e" >3</text>
<line x1="301.25" y1="138.6" x2="301.25" y2="141.0" stroke="#2b2b2b" stroke-width="1.1"/>
<text x="301.25" y="152.0" font-size="8.4" text-anchor="middle" font-weight="normal" fill="#1e1e1e" >0</text>
<line x1="326.47" y1="138.6" x2="326.47" y2="141.0" stroke="#2b2b2b" stroke-width="1.1"/>
<text x="326.47" y="152.0" font-size="8.4" text-anchor="middle" font-weight="normal" fill="#1e1e1e" >10</text>
<line x1="351.69" y1="138.6" x2="351.69" y2="141.0" stroke="#2b2b2b" stroke-width="1.1"/>
<text x="351.69" y="152.0" font-size="8.4" text-anchor="middle" font-weight="normal" fill="#1e1e1e" >20</text>
<line x1="376.90999999999997" y1="138.6" x2="376.90999999999997" y2="141.0" stroke="#2b2b2b" stroke-width="1.1"/>
<text x="376.90999999999997" y="152.0" font-size="8.4" text-anchor="middle" font-weight="normal" fill="#1e1e1e" >30</text>
<line x1="402.13" y1="138.6" x2="402.13" y2="141.0" stroke="#2b2b2b" stroke-width="1.1"/>
<text x="402.13" y="152.0" font-size="8.4" text-anchor="middle" font-weight="normal" fill="#1e1e1e" >40</text>
<line x1="427.35" y1="138.6" x2="427.35" y2="141.0" stroke="#2b2b2b" stroke-width="1.1"/>
<text x="427.35" y="152.0" font-size="8.4" text-anchor="middle" font-weight="normal" fill="#1e1e1e" >50</text>
<line x1="452.57" y1="138.6" x2="452.57" y2="141.0" stroke="#2b2b2b" stroke-width="1.1"/>
<text x="452.57" y="152.0" font-size="8.4" text-anchor="middle" font-weight="normal" fill="#1e1e1e" >60</text>
<line x1="477.78999999999996" y1="138.6" x2="477.78999999999996" y2="141.0" stroke="#2b2b2b" stroke-width="1.1"/>
<text x="477.78999999999996" y="152.0" font-size="8.4" text-anchor="middle" font-weight="normal" fill="#1e1e1e" >70</text>
<line x1="503.01" y1="138.6" x2="503.01" y2="141.0" stroke="#2b2b2b" stroke-width="1.1"/>
<text x="503.01" y="152.0" font-size="8.4" text-anchor="middle" font-weight="normal" fill="#1e1e1e" >80</text>
<line x1="301.25" y1="101.7" x2="504" y2="101.7" stroke="#606060" stroke-width="1.6" stroke-dasharray="1.8,2.4"/>
<circle cx="334.25" cy="132.5" r="1.5" fill="#7a4656" stroke="#d0325a" stroke-width="0.95"/>
<circle cx="343.25" cy="127.75" r="1.5" fill="#4a5a6a" stroke="#3a6a96" stroke-width="0.95"/>
<circle cx="355.5" cy="115.75" r="1.5" fill="#7a4656" stroke="#d0325a" stroke-width="0.95"/>
<circle cx="352" cy="123.25" r="1.5" fill="#7a4656" stroke="#d0325a" stroke-width="0.95"/>
<circle cx="352" cy="128" r="1.5" fill="#7a4656" stroke="#d0325a" stroke-width="0.95"/>
<circle cx="353.75" cy="127.5" r="1.5" fill="#7a4656" stroke="#d0325a" stroke-width="0.95"/>
<circle cx="355.25" cy="126.75" r="1.5" fill="#7a4656" stroke="#d0325a" stroke-width="0.95"/>
<circle cx="361.25" cy="125.5" r="1.5" fill="#7a4656" stroke="#d0325a" stroke-width="0.95"/>
<circle cx="364.5" cy="125" r="1.5" fill="#7a4656" stroke="#d0325a" stroke-width="0.95"/>
<circle cx="368.25" cy="123" r="1.5" fill="#7a4656" stroke="#d0325a" stroke-width="0.95"/>
<circle cx="370" cy="120.75" r="1.5" fill="#7a4656" stroke="#d0325a" stroke-width="0.95"/>
<circle cx="379.75" cy="116.25" r="1.5" fill="#7a4656" stroke="#d0325a" stroke-width="0.95"/>
<circle cx="386.75" cy="114.5" r="1.5" fill="#7a4656" stroke="#d0325a" stroke-width="0.95"/>
<circle cx="463.25" cy="47.75" r="1.5" fill="#7a4656" stroke="#d0325a" stroke-width="0.95"/>
<circle cx="469.75" cy="47.75" r="1.5" fill="#4a5a6a" stroke="#3a6a96" stroke-width="0.95"/>
<circle cx="453.75" cy="72.25" r="1.5" fill="#4a5a6a" stroke="#3a6a96" stroke-width="0.95"/>
<circle cx="420" cy="80.5" r="1.5" fill="#4a5a6a" stroke="#3a6a96" stroke-width="0.95"/>
<circle cx="432.75" cy="82.75" r="1.5" fill="#7a4656" stroke="#d0325a" stroke-width="0.95"/>
<circle cx="442" cy="79.75" r="1.5" fill="#7a4656" stroke="#d0325a" stroke-width="0.95"/>
<circle cx="442.5" cy="84.5" r="1.5" fill="#4a5a6a" stroke="#3a6a96" stroke-width="0.95"/>
<circle cx="411.25" cy="99.5" r="1.5" fill="#4a5a6a" stroke="#3a6a96" stroke-width="0.95"/>
<circle cx="422" cy="99.5" r="1.5" fill="#7a4656" stroke="#d0325a" stroke-width="0.95"/>
<circle cx="421.75" cy="101.75" r="1.5" fill="#4a5a6a" stroke="#3a6a96" stroke-width="0.95"/>
<circle cx="396.75" cy="108" r="1.5" fill="#7a4656" stroke="#d0325a" stroke-width="0.95"/>
<circle cx="398.5" cy="110" r="1.5" fill="#7a4656" stroke="#d0325a" stroke-width="0.95"/>
<circle cx="395.5" cy="113" r="1.5" fill="#7a4656" stroke="#d0325a" stroke-width="0.95"/>
<circle cx="399.5" cy="112.75" r="1.5" fill="#7a4656" stroke="#d0325a" stroke-width="0.95"/>
<circle cx="476.7" cy="17.3" r="1.5" fill="#4a5a6a" stroke="#3a6a96" stroke-width="0.95"/>
<circle cx="476.7" cy="26.3" r="1.5" fill="#7a4656" stroke="#d0325a" stroke-width="0.95"/>
<text x="481.5" y="19.9" font-size="7.4" text-anchor="start" font-weight="normal" fill="#1e1e1e" >Healthy</text>
<text x="481.5" y="28.8" font-size="7.4" text-anchor="start" font-weight="normal" fill="#1e1e1e" >TBD</text>
<text x="271" y="15" font-size="11" text-anchor="start" font-weight="bold" fill="#111" >C</text>
<text x="0" y="0" font-size="6.8" text-anchor="middle" fill="#1e1e1e" textLength="45.5" lengthAdjust="spacingAndGlyphs" transform="translate(278.948,82.3) rotate(-90)">CD4/ CD8 ratio</text>
<text x="403.5" y="168.3" font-size="9.2" text-anchor="middle" font-weight="normal" fill="#1e1e1e" textLength="23" lengthAdjust="spacingAndGlyphs">CD4<tspan font-size="5.5" dy="-3">+</tspan><tspan dy="3"> %</tspan></text>
<defs><filter id="speck" x="-20%" y="-20%" width="140%" height="140%">
<feTurbulence type="fractalNoise" baseFrequency="0.25" numOctaves="3" seed="7" result="n1"/>
<feColorMatrix in="n1" type="matrix" values="0 0 0 0 0.52  0 0 0 0 0.57  0 0 0 0 0.87  -4.5 0 0 0 2.2" result="w1"/>
<feComposite in="w1" in2="SourceGraphic" operator="in" result="wm1"/>
<feTurbulence type="fractalNoise" baseFrequency="0.9" numOctaves="1" seed="5" result="n2"/>
<feColorMatrix in="n2" type="matrix" values="0 0 0 0 0.85  0 0 0 0 0.87  0 0 0 0 1  -4 0 0 0 1.3" result="w2"/>
<feComposite in="w2" in2="SourceGraphic" operator="in" result="wm2"/>
<feGaussianBlur in="SourceGraphic" stdDeviation="0.8" result="halo0"/>
<feComponentTransfer in="halo0" result="halo"><feFuncA type="linear" slope="0.3"/></feComponentTransfer>
<feMerge result="m"><feMergeNode in="halo"/><feMergeNode in="SourceGraphic"/><feMergeNode in="wm1"/><feMergeNode in="wm2"/></feMerge>
<feGaussianBlur in="m" stdDeviation="0.45"/>
</filter><filter id="speckK" x="-20%" y="-20%" width="140%" height="140%">
<feTurbulence type="fractalNoise" baseFrequency="0.25" numOctaves="3" seed="11" result="n1"/>
<feColorMatrix in="n1" type="matrix" values="0 0 0 0 0.5  0 0 0 0 0.55  0 0 0 0 0.86  -4.5 0 0 0 2.0" result="w1"/>
<feComposite in="w1" in2="SourceGraphic" operator="in" result="wm1"/>
<feTurbulence type="fractalNoise" baseFrequency="0.9" numOctaves="1" seed="9" result="n2"/>
<feColorMatrix in="n2" type="matrix" values="0 0 0 0 0.85  0 0 0 0 0.87  0 0 0 0 1  -4 0 0 0 1.2" result="w2"/>
<feComposite in="w2" in2="SourceGraphic" operator="in" result="wm2"/>
<feGaussianBlur in="SourceGraphic" stdDeviation="0.8" result="halo0"/>
<feComponentTransfer in="halo0" result="halo"><feFuncA type="linear" slope="0.3"/></feComponentTransfer>
<feMerge result="m"><feMergeNode in="halo"/><feMergeNode in="SourceGraphic"/><feMergeNode in="wm1"/><feMergeNode in="wm2"/></feMerge>
<feGaussianBlur in="m" stdDeviation="0.45"/>
</filter><radialGradient id="lg"><stop offset="0" stop-color="#c0c6f0" stop-opacity="1"/><stop offset="0.6" stop-color="#b0b8ec" stop-opacity="0.6"/><stop offset="1" stop-color="#a0a8e8" stop-opacity="0"/></radialGradient></defs>
<text class="lt" x="284.7" y="193.4" font-size="8.8" text-anchor="middle" fill="#1e1e1e">Healthy</text>
<line x1="227.45" y1="198.7" x2="342.35" y2="198.7" stroke="#7a7a7a" stroke-width="1.8"/>
<rect x="226.25" y="204.5" width="117.0" height="116.10000000000002" fill="none" stroke="#1a1a1a" stroke-width="1.15"/>
<line x1="223.25" y1="215.2" x2="226.25" y2="215.2" stroke="#333" stroke-width="0.8"/>
<line x1="232.45" y1="320.6" x2="232.45" y2="323.0" stroke="#333" stroke-width="0.8"/>
<line x1="223.25" y1="227.67" x2="226.25" y2="227.67" stroke="#333" stroke-width="0.8"/>
<line x1="245.89999999999998" y1="320.6" x2="245.89999999999998" y2="323.0" stroke="#333" stroke-width="0.8"/>
<line x1="223.25" y1="240.14" x2="226.25" y2="240.14" stroke="#333" stroke-width="0.8"/>
<line x1="259.34999999999997" y1="320.6" x2="259.34999999999997" y2="323.0" stroke="#333" stroke-width="0.8"/>
<line x1="223.25" y1="252.60999999999999" x2="226.25" y2="252.60999999999999" stroke="#333" stroke-width="0.8"/>
<line x1="272.79999999999995" y1="320.6" x2="272.79999999999995" y2="323.0" stroke="#333" stroke-width="0.8"/>
<line x1="223.25" y1="265.08" x2="226.25" y2="265.08" stroke="#333" stroke-width="0.8"/>
<line x1="286.25" y1="320.6" x2="286.25" y2="323.0" stroke="#333" stroke-width="0.8"/>
<line x1="223.25" y1="277.55" x2="226.25" y2="277.55" stroke="#333" stroke-width="0.8"/>
<line x1="299.7" y1="320.6" x2="299.7" y2="323.0" stroke="#333" stroke-width="0.8"/>
<line x1="223.25" y1="290.02" x2="226.25" y2="290.02" stroke="#333" stroke-width="0.8"/>
<line x1="313.15" y1="320.6" x2="313.15" y2="323.0" stroke="#333" stroke-width="0.8"/>
<line x1="223.25" y1="302.49" x2="226.25" y2="302.49" stroke="#333" stroke-width="0.8"/>
<line x1="326.59999999999997" y1="320.6" x2="326.59999999999997" y2="323.0" stroke="#333" stroke-width="0.8"/>
<line x1="223.25" y1="314.96" x2="226.25" y2="314.96" stroke="#333" stroke-width="0.8"/>
<line x1="340.04999999999995" y1="320.6" x2="340.04999999999995" y2="323.0" stroke="#333" stroke-width="0.8"/>
<text x="284.75" y="335.0" font-size="8.8" text-anchor="middle" fill="#1e1e1e" textLength="17.5" lengthAdjust="spacingAndGlyphs">tSNE1</text>
<text x="0" y="0" font-size="8.8" text-anchor="middle" fill="#1e1e1e" textLength="17.5" lengthAdjust="spacingAndGlyphs" transform="translate(217.65,262.25) rotate(-90)">tSNE2</text>
<path d="M264.0,232.0 C264.8,230.2 266.3,227.7 268.0,226.0 C269.7,224.3 272.2,222.9 274.0,222.0 C275.8,221.1 277.3,220.3 279.0,220.5 C280.7,220.7 282.2,222.8 284.0,223.0 C285.8,223.2 288.0,222.1 290.0,222.0 C292.0,221.9 294.0,222.0 296.0,222.5 C298.0,223.0 300.2,224.1 302.0,225.0 C303.8,225.9 305.6,226.8 307.0,228.0 C308.4,229.2 309.9,230.3 310.5,232.0 C311.1,233.7 310.9,236.2 310.5,238.0 C310.1,239.8 308.9,241.5 308.0,243.0 C307.1,244.5 306.3,247.0 305.0,247.0 C303.7,247.0 301.8,244.0 300.0,243.0 C298.2,242.0 296.5,241.2 294.0,241.0 C291.5,240.8 287.7,241.3 285.0,242.0 C282.3,242.7 280.0,243.8 278.0,245.0 C276.0,246.2 275.0,248.2 273.0,249.0 C271.0,249.8 267.8,250.8 266.0,250.0 C264.2,249.2 263.0,246.2 262.5,244.0 C262.0,241.8 262.8,239.0 263.0,237.0 C263.2,235.0 263.2,233.8 264.0,232.0Z" fill="#1d2c9e" fill-opacity="1.0" filter="url(#speck)"/>
<path d="M254.6,234.3 C255.6,234.1 259.6,237.5 260.4,238.6 C261.2,239.7 260.4,240.8 259.4,241.0 C258.4,241.2 255.2,241.1 254.4,240.0 C253.6,238.9 253.6,234.5 254.6,234.3Z" fill="#1d2c9e" fill-opacity="1.0" filter="url(#speck)"/>
<path d="M251.0,244.5 C252.8,243.8 255.7,245.2 257.0,246.0 C258.3,246.8 258.8,247.2 259.0,249.0 C259.2,250.8 259.0,254.5 258.0,257.0 C257.0,259.5 254.8,263.0 253.0,263.8 C251.2,264.6 248.4,263.0 247.0,262.0 C245.6,261.0 244.8,260.0 244.6,258.0 C244.4,256.0 244.9,252.2 246.0,250.0 C247.1,247.8 249.2,245.2 251.0,244.5Z" fill="#1d2c9e" fill-opacity="1.0" filter="url(#speck)"/>
<path d="M246.3,269.4 C247.5,268.8 250.3,267.8 252.5,269.2 C254.7,270.6 257.6,275.0 259.2,277.5 C260.8,280.0 261.2,281.7 262.0,284.0 C262.8,286.3 263.9,289.4 264.0,291.5 C264.1,293.6 264.1,295.6 262.6,296.5 C261.1,297.4 256.9,298.6 255.0,297.0 C253.2,295.4 252.9,290.2 251.5,287.0 C250.1,283.8 247.7,280.3 246.7,278.0 C245.7,275.7 245.6,274.4 245.5,273.0 C245.4,271.6 245.1,270.0 246.3,269.4Z" fill="#1d2c9e" fill-opacity="1.0" filter="url(#speck)"/>
<path d="M268.8,261.7 C270.5,259.7 273.3,261.5 276.0,262.0 C278.7,262.5 281.6,265.0 285.0,264.6 C288.4,264.2 292.5,260.8 296.5,259.8 C300.5,258.8 306.1,258.3 309.0,258.8 C311.9,259.3 312.8,260.9 313.8,262.7 C314.8,264.5 314.8,267.5 314.8,269.4 C314.8,271.3 313.6,272.4 313.8,274.2 C314.0,276.0 316.2,277.6 316.2,280.0 C316.2,282.4 315.2,286.1 313.8,288.7 C312.4,291.3 309.9,293.3 308.0,295.4 C306.1,297.5 304.5,299.8 302.3,301.2 C300.1,302.6 297.5,303.4 294.6,304.0 C291.7,304.6 287.9,304.7 285.0,304.5 C282.1,304.3 280.0,304.5 277.5,303.0 C275.0,301.5 271.6,298.1 269.8,295.4 C268.1,292.7 267.6,290.2 267.0,286.7 C266.4,283.2 265.7,278.4 266.0,274.2 C266.3,270.0 267.1,263.7 268.8,261.7Z" fill="#1d2c9e" fill-opacity="1.0" filter="url(#speck)"/>
<clipPath id="cl1"><path d="M268.8,261.7 C270.5,259.7 273.3,261.5 276.0,262.0 C278.7,262.5 281.6,265.0 285.0,264.6 C288.4,264.2 292.5,260.8 296.5,259.8 C300.5,258.8 306.1,258.3 309.0,258.8 C311.9,259.3 312.8,260.9 313.8,262.7 C314.8,264.5 314.8,267.5 314.8,269.4 C314.8,271.3 313.6,272.4 313.8,274.2 C314.0,276.0 316.2,277.6 316.2,280.0 C316.2,282.4 315.2,286.1 313.8,288.7 C312.4,291.3 309.9,293.3 308.0,295.4 C306.1,297.5 304.5,299.8 302.3,301.2 C300.1,302.6 297.5,303.4 294.6,304.0 C291.7,304.6 287.9,304.7 285.0,304.5 C282.1,304.3 280.0,304.5 277.5,303.0 C275.0,301.5 271.6,298.1 269.8,295.4 C268.1,292.7 267.6,290.2 267.0,286.7 C266.4,283.2 265.7,278.4 266.0,274.2 C266.3,270.0 267.1,263.7 268.8,261.7Z"/></clipPath>
<ellipse cx="283" cy="291" rx="16" ry="13" fill="url(#lg)" fill-opacity="0.55" clip-path="url(#cl1)"/>
<path d="M307.0,293.0 C307.3,292.3 308.8,293.6 310.0,295.0 C311.2,296.4 314.1,300.2 314.5,301.5 C314.9,302.8 313.6,303.4 312.5,303.0 C311.4,302.6 308.9,300.7 308.0,299.0 C307.1,297.3 306.7,293.7 307.0,293.0Z" fill="#1d2c9e" fill-opacity="1.0" filter="url(#speck)"/>
<path d="M307.0,248.0 C307.7,247.0 310.5,247.0 312.0,247.5 C313.5,248.0 315.5,249.9 315.8,251.0 C316.1,252.1 315.3,253.8 314.0,254.2 C312.7,254.6 309.2,254.5 308.0,253.5 C306.8,252.5 306.3,249.0 307.0,248.0Z" fill="#1d2c9e" fill-opacity="1.0" filter="url(#speck)"/>
<line x1="317.2" y1="238.8" x2="321.5" y2="244.6" stroke="#1c2a94" stroke-width="1.2"/>
<ellipse cx="289.2" cy="252" rx="17" ry="10.2" fill="#fff" transform="rotate(-21 289.2 252)"/>
<ellipse cx="289.2" cy="252" rx="16" ry="9.2" fill="#f5821f" transform="rotate(-21 289.2 252)"/>
<ellipse cx="323" cy="262" rx="6.5" ry="7.4" fill="#38a33a"/>
<text class="lt" x="193.3" y="256.2" font-size="8.0" text-anchor="end" fill="#1e1e1e">Ungated</text>
<rect x="197" y="251.4" width="7" height="3.8" fill="#1c2a94"/>
<text class="lt" x="193.3" y="265.59999999999997" font-size="8.0" text-anchor="end" fill="#1e1e1e">CD4+ Naive</text>
<rect x="197" y="260.8" width="7" height="3.8" fill="#f5821f"/>
<text class="lt" x="193.3" y="275.0" font-size="8.0" text-anchor="end" fill="#1e1e1e">CD8+ Naive</text>
<rect x="197" y="270.20000000000005" width="7" height="3.8" fill="#38a33a"/>
<text class="lt" x="432.6" y="193.4" font-size="8.8" text-anchor="middle" fill="#1e1e1e">TBD</text>
<line x1="375.7" y1="198.7" x2="489.1" y2="198.7" stroke="#7a7a7a" stroke-width="1.8"/>
<rect x="374.5" y="204.5" width="115.5" height="116.25" fill="none" stroke="#1a1a1a" stroke-width="1.15"/>
<line x1="371.5" y1="215.2" x2="374.5" y2="215.2" stroke="#333" stroke-width="0.8"/>
<line x1="380.7" y1="320.75" x2="380.7" y2="323.15" stroke="#333" stroke-width="0.8"/>
<line x1="371.5" y1="227.67" x2="374.5" y2="227.67" stroke="#333" stroke-width="0.8"/>
<line x1="394.15" y1="320.75" x2="394.15" y2="323.15" stroke="#333" stroke-width="0.8"/>
<line x1="371.5" y1="240.14" x2="374.5" y2="240.14" stroke="#333" stroke-width="0.8"/>
<line x1="407.59999999999997" y1="320.75" x2="407.59999999999997" y2="323.15" stroke="#333" stroke-width="0.8"/>
<line x1="371.5" y1="252.60999999999999" x2="374.5" y2="252.60999999999999" stroke="#333" stroke-width="0.8"/>
<line x1="421.04999999999995" y1="320.75" x2="421.04999999999995" y2="323.15" stroke="#333" stroke-width="0.8"/>
<line x1="371.5" y1="265.08" x2="374.5" y2="265.08" stroke="#333" stroke-width="0.8"/>
<line x1="434.5" y1="320.75" x2="434.5" y2="323.15" stroke="#333" stroke-width="0.8"/>
<line x1="371.5" y1="277.55" x2="374.5" y2="277.55" stroke="#333" stroke-width="0.8"/>
<line x1="447.95" y1="320.75" x2="447.95" y2="323.15" stroke="#333" stroke-width="0.8"/>
<line x1="371.5" y1="290.02" x2="374.5" y2="290.02" stroke="#333" stroke-width="0.8"/>
<line x1="461.4" y1="320.75" x2="461.4" y2="323.15" stroke="#333" stroke-width="0.8"/>
<line x1="371.5" y1="302.49" x2="374.5" y2="302.49" stroke="#333" stroke-width="0.8"/>
<line x1="474.84999999999997" y1="320.75" x2="474.84999999999997" y2="323.15" stroke="#333" stroke-width="0.8"/>
<line x1="371.5" y1="314.96" x2="374.5" y2="314.96" stroke="#333" stroke-width="0.8"/>
<line x1="488.29999999999995" y1="320.75" x2="488.29999999999995" y2="323.15" stroke="#333" stroke-width="0.8"/>
<text x="432.25" y="335.15" font-size="8.8" text-anchor="middle" fill="#1e1e1e" textLength="17.5" lengthAdjust="spacingAndGlyphs">tSNE1</text>
<text x="0" y="0" font-size="8.8" text-anchor="middle" fill="#1e1e1e" textLength="17.5" lengthAdjust="spacingAndGlyphs" transform="translate(365.9,262.325) rotate(-90)">tSNE2</text>
<path d="M413.0,236.0 C414.4,233.1 416.9,226.8 418.8,224.4 C420.7,222.0 422.7,221.9 424.6,221.5 C426.5,221.1 428.7,221.3 430.4,222.0 C432.1,222.7 432.9,225.3 435.0,225.4 C437.1,225.5 440.3,222.3 442.7,222.5 C445.1,222.7 447.5,225.3 449.4,226.3 C451.3,227.3 452.8,227.2 454.2,228.3 C455.6,229.4 457.1,231.4 457.6,233.0 C458.1,234.6 457.6,236.6 457.0,238.0 C456.4,239.4 455.5,241.1 454.2,241.7 C452.9,242.3 451.8,241.7 449.4,241.7 C447.0,241.7 443.2,241.7 440.0,241.7 C436.8,241.7 433.1,241.4 430.4,241.7 C427.7,242.0 425.6,242.6 423.7,243.7 C421.8,244.8 420.6,247.9 418.8,248.5 C417.0,249.1 414.4,248.6 413.0,247.5 C411.6,246.4 410.5,243.9 410.5,242.0 C410.5,240.1 411.6,238.9 413.0,236.0Z" fill="#1d2c9e" fill-opacity="1.0" filter="url(#speck)"/>
<path d="M398.7,245.6 C400.2,244.9 403.2,245.7 405.0,246.0 C406.8,246.3 408.5,246.0 409.2,247.5 C409.9,249.0 409.4,252.6 409.0,255.0 C408.6,257.4 408.5,260.5 407.0,262.0 C405.5,263.5 401.9,264.4 400.0,264.1 C398.1,263.8 396.5,262.4 395.8,260.0 C395.1,257.6 395.5,252.4 396.0,250.0 C396.5,247.6 397.2,246.3 398.7,245.6Z" fill="#1d2c9e" fill-opacity="1.0" filter="url(#speck)"/>
<path d="M396.0,277.0 C397.0,276.2 400.0,277.7 402.0,279.0 C404.0,280.3 406.6,282.7 408.0,285.0 C409.4,287.3 410.5,291.3 410.2,293.0 C409.9,294.7 407.9,295.6 406.0,295.4 C404.1,295.2 400.7,293.9 399.0,292.0 C397.3,290.1 396.3,286.5 395.8,284.0 C395.3,281.5 395.0,277.8 396.0,277.0Z" fill="#1d2c9e" fill-opacity="0.75" filter="url(#speck)"/>
<path d="M413.0,263.7 C415.6,263.1 419.2,262.7 423.7,262.7 C428.2,262.7 434.9,264.2 440.0,263.7 C445.1,263.2 451.3,259.6 454.2,259.8 C457.1,260.0 457.1,263.0 457.1,264.6 C457.1,266.2 455.5,268.3 454.2,269.4 C452.9,270.5 450.3,269.7 449.4,271.3 C448.4,272.9 448.5,276.6 448.5,279.0 C448.5,281.4 449.7,283.4 449.4,285.8 C449.1,288.2 447.9,291.1 446.5,293.5 C445.1,295.9 442.7,298.6 440.8,300.2 C438.9,301.8 437.9,302.5 435.0,303.0 C432.1,303.5 426.6,304.1 423.7,303.0 C420.8,301.9 419.5,298.7 417.9,296.3 C416.3,293.9 414.6,291.6 414.0,288.7 C413.4,285.8 415.1,281.9 414.0,279.0 C412.9,276.1 408.2,273.4 407.3,271.3 C406.4,269.2 407.4,267.8 408.3,266.5 C409.2,265.2 410.4,264.3 413.0,263.7Z" fill="#1d2c9e" fill-opacity="1.0" filter="url(#speck)"/>
<clipPath id="cl2"><path d="M413.0,263.7 C415.6,263.1 419.2,262.7 423.7,262.7 C428.2,262.7 434.9,264.2 440.0,263.7 C445.1,263.2 451.3,259.6 454.2,259.8 C457.1,260.0 457.1,263.0 457.1,264.6 C457.1,266.2 455.5,268.3 454.2,269.4 C452.9,270.5 450.3,269.7 449.4,271.3 C448.4,272.9 448.5,276.6 448.5,279.0 C448.5,281.4 449.7,283.4 449.4,285.8 C449.1,288.2 447.9,291.1 446.5,293.5 C445.1,295.9 442.7,298.6 440.8,300.2 C438.9,301.8 437.9,302.5 435.0,303.0 C432.1,303.5 426.6,304.1 423.7,303.0 C420.8,301.9 419.5,298.7 417.9,296.3 C416.3,293.9 414.6,291.6 414.0,288.7 C413.4,285.8 415.1,281.9 414.0,279.0 C412.9,276.1 408.2,273.4 407.3,271.3 C406.4,269.2 407.4,267.8 408.3,266.5 C409.2,265.2 410.4,264.3 413.0,263.7Z"/></clipPath>
<ellipse cx="448" cy="276" rx="9" ry="12" fill="url(#lg)" fill-opacity="0.6" clip-path="url(#cl2)"/>
<path d="M450.0,300.0 C452.7,296.5 464.3,285.7 468.0,283.0 C471.7,280.3 471.2,282.8 472.0,284.0 C472.8,285.2 475.7,286.7 473.0,290.0 C470.3,293.3 459.5,301.7 456.0,304.0 C452.5,306.3 453.0,304.7 452.0,304.0 C451.0,303.3 447.3,303.5 450.0,300.0Z" fill="#1d2c9e" fill-opacity="1.0" filter="url(#speck)"/>
<path d="M455.2,248.5 C457.0,246.9 458.6,247.2 460.0,247.5 C461.4,247.8 463.1,248.7 463.4,250.0 C463.7,251.3 463.4,253.9 462.0,255.2 C460.6,256.5 457.5,257.0 455.0,258.0 C452.5,259.0 448.0,261.2 447.0,261.0 C446.0,260.8 447.6,259.1 449.0,257.0 C450.4,254.9 453.4,250.1 455.2,248.5Z" fill="#1d2c9e" fill-opacity="1.0" filter="url(#speck)"/>
<line x1="464.3" y1="238.8" x2="469.1" y2="245" stroke="#1c2a94" stroke-width="1.1"/>
<ellipse cx="437" cy="251.8" rx="16" ry="10.6" fill="#fff" transform="rotate(-20 437 251.8)"/>
<ellipse cx="437" cy="251.8" rx="15" ry="9.6" fill="#f08c38" fill-opacity="0.92" transform="rotate(-20 437 251.8)"/>
<ellipse cx="466" cy="261" rx="8.5" ry="6.3" fill="#5db854" fill-opacity="0.8" transform="rotate(10 466 261)"/>
<text class="lt" x="221.0" y="521.4" font-size="8.8" text-anchor="middle" fill="#1e1e1e">Healthy</text>
<line x1="163.29999999999998" y1="526.5" x2="278.5" y2="526.5" stroke="#2a2a2a" stroke-width="1.0"/>
<rect x="162.1" y="532.1" width="117.29999999999998" height="115.89999999999998" fill="none" stroke="#1a1a1a" stroke-width="1.15"/>
<line x1="159.1" y1="540.7" x2="162.1" y2="540.7" stroke="#333" stroke-width="0.8"/>
<line x1="168.29999999999998" y1="648.0" x2="168.29999999999998" y2="650.4" stroke="#333" stroke-width="0.8"/>
<line x1="159.1" y1="553.1700000000001" x2="162.1" y2="553.1700000000001" stroke="#333" stroke-width="0.8"/>
<line x1="181.74999999999997" y1="648.0" x2="181.74999999999997" y2="650.4" stroke="#333" stroke-width="0.8"/>
<line x1="159.1" y1="565.6400000000001" x2="162.1" y2="565.6400000000001" stroke="#333" stroke-width="0.8"/>
<line x1="195.2" y1="648.0" x2="195.2" y2="650.4" stroke="#333" stroke-width="0.8"/>
<line x1="159.1" y1="578.11" x2="162.1" y2="578.11" stroke="#333" stroke-width="0.8"/>
<line x1="208.64999999999998" y1="648.0" x2="208.64999999999998" y2="650.4" stroke="#333" stroke-width="0.8"/>
<line x1="159.1" y1="590.58" x2="162.1" y2="590.58" stroke="#333" stroke-width="0.8"/>
<line x1="222.09999999999997" y1="648.0" x2="222.09999999999997" y2="650.4" stroke="#333" stroke-width="0.8"/>
<line x1="159.1" y1="603.0500000000001" x2="162.1" y2="603.0500000000001" stroke="#333" stroke-width="0.8"/>
<line x1="235.54999999999998" y1="648.0" x2="235.54999999999998" y2="650.4" stroke="#333" stroke-width="0.8"/>
<line x1="159.1" y1="615.5200000000001" x2="162.1" y2="615.5200000000001" stroke="#333" stroke-width="0.8"/>
<line x1="248.99999999999997" y1="648.0" x2="248.99999999999997" y2="650.4" stroke="#333" stroke-width="0.8"/>
<line x1="159.1" y1="627.99" x2="162.1" y2="627.99" stroke="#333" stroke-width="0.8"/>
<line x1="262.45" y1="648.0" x2="262.45" y2="650.4" stroke="#333" stroke-width="0.8"/>
<line x1="159.1" y1="640.46" x2="162.1" y2="640.46" stroke="#333" stroke-width="0.8"/>
<line x1="275.9" y1="648.0" x2="275.9" y2="650.4" stroke="#333" stroke-width="0.8"/>
<text x="220.75" y="662.4" font-size="8.8" text-anchor="middle" fill="#1e1e1e" textLength="17.5" lengthAdjust="spacingAndGlyphs">tSNE1</text>
<text x="0" y="0" font-size="8.8" text-anchor="middle" fill="#1e1e1e" textLength="17.5" lengthAdjust="spacingAndGlyphs" transform="translate(153.5,589.75) rotate(-90)">tSNE2</text>
<path d="M190.8,560.0 C192.5,559.6 195.0,560.4 196.5,562.3 C198.0,564.2 199.8,569.0 200.0,571.5 C200.2,574.0 199.2,576.2 197.7,577.3 C196.2,578.4 192.9,578.9 190.8,577.9 C188.7,576.9 185.8,573.7 185.0,571.5 C184.2,569.3 185.1,566.5 186.1,564.6 C187.1,562.7 189.1,560.4 190.8,560.0Z" fill="#1d2c9e" fill-opacity="1.0" filter="url(#speckK)"/>
<path d="M176.3,577.0 C176.8,575.7 178.9,574.5 180.0,575.0 C181.1,575.5 182.6,578.5 182.7,580.0 C182.8,581.5 181.5,583.7 180.5,584.2 C179.5,584.7 177.5,584.2 176.8,583.0 C176.1,581.8 175.8,578.3 176.3,577.0Z" fill="#1d2c9e" fill-opacity="1.0" filter="url(#speckK)"/>
<path d="M190.8,583.0 C193.1,581.1 197.1,580.8 200.0,579.6 C202.9,578.5 205.9,575.5 208.0,576.1 C210.1,576.7 212.3,579.9 212.7,583.0 C213.1,586.1 212.1,591.7 210.4,594.6 C208.7,597.5 205.4,599.6 202.3,600.4 C199.2,601.2 194.6,600.8 191.9,599.2 C189.2,597.7 186.3,593.8 186.1,591.1 C185.9,588.4 188.5,584.9 190.8,583.0Z" fill="#1d2c9e" fill-opacity="1.0" filter="url(#speckK)"/>
<path d="M211.5,554.8 C214.2,554.2 220.5,553.2 223.0,554.2 C225.5,555.2 226.1,558.0 226.5,561.1 C226.9,564.2 226.9,569.6 225.4,572.7 C223.9,575.8 220.2,579.2 217.3,579.6 C214.4,580.0 210.1,577.5 208.0,575.0 C205.9,572.5 204.8,567.5 204.6,564.6 C204.4,561.7 205.8,559.3 206.9,557.7 C208.1,556.1 208.8,555.4 211.5,554.8Z" fill="#1d2c9e" fill-opacity="1.0" filter="url(#speckK)"/>
<path d="M213.8,591.0 C215.4,588.3 216.2,585.0 218.5,583.0 C220.8,581.0 225.0,579.6 227.9,579.0 C230.8,578.4 234.0,578.6 236.0,579.5 C238.0,580.4 238.4,582.0 240.0,584.4 C241.6,586.8 244.5,591.1 245.4,593.8 C246.3,596.5 246.5,597.3 245.7,600.4 C244.9,603.5 243.2,609.0 240.6,612.5 C238.0,616.0 234.2,619.4 230.2,621.1 C226.1,622.8 219.8,624.3 216.3,622.9 C212.8,621.5 210.6,616.5 209.4,612.5 C208.2,608.5 208.3,602.8 209.0,599.2 C209.7,595.6 212.2,593.7 213.8,591.0Z" fill="#1d2c9e" fill-opacity="1.0" filter="url(#speckK)"/>
<clipPath id="cl3"><path d="M213.8,591.0 C215.4,588.3 216.2,585.0 218.5,583.0 C220.8,581.0 225.0,579.6 227.9,579.0 C230.8,578.4 234.0,578.6 236.0,579.5 C238.0,580.4 238.4,582.0 240.0,584.4 C241.6,586.8 244.5,591.1 245.4,593.8 C246.3,596.5 246.5,597.3 245.7,600.4 C244.9,603.5 243.2,609.0 240.6,612.5 C238.0,616.0 234.2,619.4 230.2,621.1 C226.1,622.8 219.8,624.3 216.3,622.9 C212.8,621.5 210.6,616.5 209.4,612.5 C208.2,608.5 208.3,602.8 209.0,599.2 C209.7,595.6 212.2,593.7 213.8,591.0Z"/></clipPath>
<ellipse cx="220" cy="612" rx="14" ry="12" fill="url(#lg)" fill-opacity="0.3" clip-path="url(#cl3)"/>
<path d="M191.2,606.0 C192.6,603.8 197.2,604.2 200.0,604.7 C202.8,605.2 206.5,606.6 207.7,609.0 C208.9,611.4 208.6,616.8 207.0,619.0 C205.4,621.2 200.6,622.2 198.0,622.0 C195.4,621.8 192.6,620.7 191.5,618.0 C190.4,615.3 189.8,608.2 191.2,606.0Z" fill="#1d2c9e" fill-opacity="1.0" filter="url(#speckK)"/>
<path d="M218.0,624.5 C218.8,623.0 223.7,623.3 226.0,623.7 C228.3,624.1 231.5,625.3 232.0,627.0 C232.5,628.7 230.8,633.1 229.0,634.1 C227.2,635.1 222.8,634.6 221.0,633.0 C219.2,631.4 217.2,626.0 218.0,624.5Z" fill="#1d2c9e" fill-opacity="1.0" filter="url(#speckK)"/>
<path d="M244.0,569.0 C245.6,567.5 249.3,566.4 252.0,566.2 C254.7,566.0 258.2,566.4 260.0,568.0 C261.8,569.6 262.6,573.0 262.9,576.0 C263.1,579.0 261.1,582.8 261.5,586.0 C261.9,589.2 265.2,591.7 265.6,595.0 C266.0,598.3 265.4,603.7 264.0,606.0 C262.6,608.3 258.8,607.3 257.0,609.0 C255.2,610.7 254.0,616.3 253.0,616.0 C252.0,615.7 251.8,610.3 251.0,607.0 C250.2,603.7 249.7,599.8 248.5,596.0 C247.3,592.2 245.0,587.5 244.0,584.0 C243.0,580.5 242.7,577.5 242.7,575.0 C242.7,572.5 242.4,570.5 244.0,569.0Z" fill="#1d2c9e" fill-opacity="1.0" filter="url(#speckK)"/>
<path d="M226.5,555.5 C227.2,554.4 231.7,554.2 233.0,555.0 C234.3,555.8 235.3,559.4 234.6,560.5 C233.9,561.6 230.3,562.3 229.0,561.5 C227.7,560.7 225.8,556.6 226.5,555.5Z" fill="#1d2c9e" fill-opacity="1.0" filter="url(#speckK)"/>
<path d="M236.0,562.0 C236.8,560.6 240.9,560.5 242.0,561.5 C243.1,562.5 243.5,566.6 242.7,568.0 C241.9,569.4 238.1,570.6 237.0,569.6 C235.9,568.6 235.2,563.4 236.0,562.0Z" fill="#1d2c9e" fill-opacity="1.0" filter="url(#speckK)"/>
<path d="M229.5,564.0 C230.2,563.3 233.2,563.3 234.0,564.0 C234.8,564.7 234.8,567.3 234.0,568.0 C233.2,568.7 230.2,568.7 229.5,568.0 C228.8,567.3 228.8,564.7 229.5,564.0Z" fill="#1d2c9e" fill-opacity="1.0" filter="url(#speckK)"/>
<ellipse cx="252" cy="587.2" rx="5.4" ry="4.8" fill="#f5821f" fill-opacity="0.85" transform="rotate(-30 252 587.2)"/>
<line x1="236.6" y1="594.7" x2="246.6" y2="590.5" stroke="#f5821f" stroke-width="1.2"/>
<text class="lt" x="369.0" y="521.4" font-size="8.8" text-anchor="middle" fill="#1e1e1e">TBD</text>
<line x1="311.4" y1="526.5" x2="425.8" y2="526.5" stroke="#2a2a2a" stroke-width="1.0"/>
<rect x="310.2" y="532.1" width="116.5" height="115.89999999999998" fill="none" stroke="#1a1a1a" stroke-width="1.15"/>
<line x1="307.2" y1="540.7" x2="310.2" y2="540.7" stroke="#333" stroke-width="0.8"/>
<line x1="316.4" y1="648.0" x2="316.4" y2="650.4" stroke="#333" stroke-width="0.8"/>
<line x1="307.2" y1="553.1700000000001" x2="310.2" y2="553.1700000000001" stroke="#333" stroke-width="0.8"/>
<line x1="329.84999999999997" y1="648.0" x2="329.84999999999997" y2="650.4" stroke="#333" stroke-width="0.8"/>
<line x1="307.2" y1="565.6400000000001" x2="310.2" y2="565.6400000000001" stroke="#333" stroke-width="0.8"/>
<line x1="343.29999999999995" y1="648.0" x2="343.29999999999995" y2="650.4" stroke="#333" stroke-width="0.8"/>
<line x1="307.2" y1="578.11" x2="310.2" y2="578.11" stroke="#333" stroke-width="0.8"/>
<line x1="356.75" y1="648.0" x2="356.75" y2="650.4" stroke="#333" stroke-width="0.8"/>
<line x1="307.2" y1="590.58" x2="310.2" y2="590.58" stroke="#333" stroke-width="0.8"/>
<line x1="370.2" y1="648.0" x2="370.2" y2="650.4" stroke="#333" stroke-width="0.8"/>
<line x1="307.2" y1="603.0500000000001" x2="310.2" y2="603.0500000000001" stroke="#333" stroke-width="0.8"/>
<line x1="383.65" y1="648.0" x2="383.65" y2="650.4" stroke="#333" stroke-width="0.8"/>
<line x1="307.2" y1="615.5200000000001" x2="310.2" y2="615.5200000000001" stroke="#333" stroke-width="0.8"/>
<line x1="397.09999999999997" y1="648.0" x2="397.09999999999997" y2="650.4" stroke="#333" stroke-width="0.8"/>
<line x1="307.2" y1="627.99" x2="310.2" y2="627.99" stroke="#333" stroke-width="0.8"/>
<line x1="410.54999999999995" y1="648.0" x2="410.54999999999995" y2="650.4" stroke="#333" stroke-width="0.8"/>
<line x1="307.2" y1="640.46" x2="310.2" y2="640.46" stroke="#333" stroke-width="0.8"/>
<line x1="424.0" y1="648.0" x2="424.0" y2="650.4" stroke="#333" stroke-width="0.8"/>
<text x="368.45" y="662.4" font-size="8.8" text-anchor="middle" fill="#1e1e1e" textLength="17.5" lengthAdjust="spacingAndGlyphs">tSNE1</text>
<text x="0" y="0" font-size="8.8" text-anchor="middle" fill="#1e1e1e" textLength="17.5" lengthAdjust="spacingAndGlyphs" transform="translate(301.59999999999997,589.75) rotate(-90)">tSNE2</text>
<path d="M340.0,560.2 C341.4,560.0 343.8,560.4 345.0,562.0 C346.2,563.6 347.0,567.3 347.0,570.0 C347.0,572.7 346.5,577.1 345.0,578.4 C343.5,579.7 339.6,579.4 338.0,578.0 C336.4,576.6 335.8,572.5 335.5,570.0 C335.2,567.5 335.8,564.6 336.5,563.0 C337.2,561.4 338.6,560.4 340.0,560.2Z" fill="#1d2c9e" fill-opacity="1.0" filter="url(#speckK)"/>
<path d="M324.5,577.0 C325.2,575.8 327.8,575.2 329.0,575.7 C330.2,576.2 331.4,578.5 331.5,580.0 C331.6,581.5 330.6,583.9 329.5,584.4 C328.4,584.9 325.8,584.2 325.0,583.0 C324.2,581.8 323.8,578.2 324.5,577.0Z" fill="#1d2c9e" fill-opacity="1.0" filter="url(#speckK)"/>
<path d="M334.2,585.8 C336.3,583.8 341.2,581.5 345.0,580.4 C348.8,579.3 354.8,577.6 357.0,579.0 C359.2,580.4 359.1,585.4 358.4,588.5 C357.7,591.6 356.4,596.6 353.0,597.9 C349.6,599.2 341.7,597.4 338.2,596.5 C334.7,595.6 332.8,594.3 332.1,592.5 C331.4,590.7 332.1,587.8 334.2,585.8Z" fill="#1d2c9e" fill-opacity="1.0" filter="url(#speckK)"/>
<path d="M358.4,556.2 C360.9,554.4 365.3,553.7 367.8,554.8 C370.3,555.9 372.5,559.8 373.2,562.9 C373.9,566.0 373.6,570.9 371.8,573.6 C370.0,576.3 365.8,578.5 362.4,579.0 C359.0,579.5 353.2,578.5 351.6,576.3 C350.0,574.1 351.9,569.0 353.0,565.6 C354.1,562.2 355.9,558.0 358.4,556.2Z" fill="#1d2c9e" fill-opacity="1.0" filter="url(#speckK)"/>
<path d="M361.0,593.8 C363.3,591.0 368.6,583.9 371.8,581.7 C375.0,579.5 377.4,580.0 380.0,580.4 C382.6,580.8 385.4,582.2 387.3,584.4 C389.2,586.6 390.6,591.1 391.3,593.8 C392.0,596.5 392.0,597.3 391.6,600.4 C391.2,603.5 391.4,608.6 389.0,612.5 C386.6,616.4 381.2,621.8 376.9,623.7 C372.6,625.6 366.5,625.0 363.0,623.7 C359.5,622.4 357.0,620.2 356.1,616.0 C355.2,611.8 357.1,602.4 357.9,598.7 C358.7,595.0 358.7,596.6 361.0,593.8Z" fill="#1d2c9e" fill-opacity="1.0" filter="url(#speckK)"/>
<path d="M338.0,606.0 C339.6,604.0 345.1,604.0 348.0,604.7 C350.9,605.4 354.3,607.6 355.3,610.0 C356.3,612.4 355.7,617.1 354.0,619.0 C352.3,620.9 347.6,621.4 345.0,621.1 C342.4,620.8 339.7,619.5 338.5,617.0 C337.3,614.5 336.4,608.0 338.0,606.0Z" fill="#1d2c9e" fill-opacity="1.0" filter="url(#speckK)"/>
<path d="M366.5,627.0 C367.2,625.6 370.1,624.8 372.0,624.6 C373.9,624.4 377.3,624.5 377.8,626.0 C378.3,627.5 376.6,632.3 375.0,633.5 C373.4,634.7 369.4,634.1 368.0,633.0 C366.6,631.9 365.8,628.4 366.5,627.0Z" fill="#1d2c9e" fill-opacity="1.0" filter="url(#speckK)"/>
<path d="M392.0,569.0 C393.7,567.8 397.5,566.8 400.0,567.0 C402.5,567.2 405.5,568.2 407.0,570.0 C408.5,571.8 409.0,575.3 408.8,578.0 C408.6,580.7 405.6,583.7 406.0,586.0 C406.4,588.3 409.9,589.7 411.0,592.0 C412.1,594.3 413.1,597.5 412.9,600.0 C412.7,602.5 412.0,605.8 410.0,607.3 C408.0,608.8 403.0,607.5 401.0,609.0 C399.0,610.5 398.6,616.5 398.0,616.0 C397.4,615.5 398.2,610.0 397.7,606.0 C397.2,602.0 396.1,596.0 395.0,592.0 C393.9,588.0 391.8,585.0 391.0,582.0 C390.2,579.0 389.8,576.2 390.0,574.0 C390.2,571.8 390.3,570.2 392.0,569.0Z" fill="#1d2c9e" fill-opacity="1.0" filter="url(#speckK)"/>
<path d="M376.0,557.0 C377.1,555.9 379.7,555.4 382.0,556.2 C384.3,557.0 389.0,559.5 390.0,562.0 C391.0,564.5 389.5,569.7 388.0,571.0 C386.5,572.3 383.1,571.3 381.0,570.0 C378.9,568.7 376.0,565.2 375.2,563.0 C374.4,560.8 374.9,558.1 376.0,557.0Z" fill="#1d2c9e" fill-opacity="1.0" filter="url(#speckK)"/>
<path d="M375.5,571.5 C376.3,570.8 379.9,570.4 381.0,571.0 C382.1,571.6 382.8,574.3 382.0,575.0 C381.2,575.7 377.1,575.6 376.0,575.0 C374.9,574.4 374.7,572.2 375.5,571.5Z" fill="#1d2c9e" fill-opacity="1.0" filter="url(#speckK)"/>
<path d="M367.0,548.5 C368.4,548.0 375.2,547.0 376.5,547.4 C377.8,547.8 376.4,550.3 375.0,550.8 C373.6,551.3 369.3,550.9 368.0,550.5 C366.7,550.1 365.6,549.0 367.0,548.5Z" fill="#1d2c9e" fill-opacity="1.0" filter="url(#speckK)"/>
<path d="M382.5,552.5 C383.2,551.8 386.6,551.4 387.3,552.0 C388.1,552.6 387.7,555.3 387.0,556.0 C386.3,556.7 383.8,556.6 383.0,556.0 C382.2,555.4 381.8,553.2 382.5,552.5Z" fill="#1d2c9e" fill-opacity="1.0" filter="url(#speckK)"/>
<ellipse cx="399.5" cy="586.5" rx="5.5" ry="4.8" fill="#f39a4a" fill-opacity="0.75"/>
<ellipse cx="389.5" cy="593" rx="3" ry="1.8" fill="#f5821f" fill-opacity="0.8"/>
<text x="135" y="195.5" font-size="11" font-weight="bold" fill="#111">E</text>
<text x="134.6" y="523.5" font-size="11" font-weight="bold" fill="#111">K</text>
<rect x="0.5" y="0.5" width="519" height="669" fill="none" stroke="#3a3a3a" stroke-width="1.2"/>
</svg>
</body></html>
